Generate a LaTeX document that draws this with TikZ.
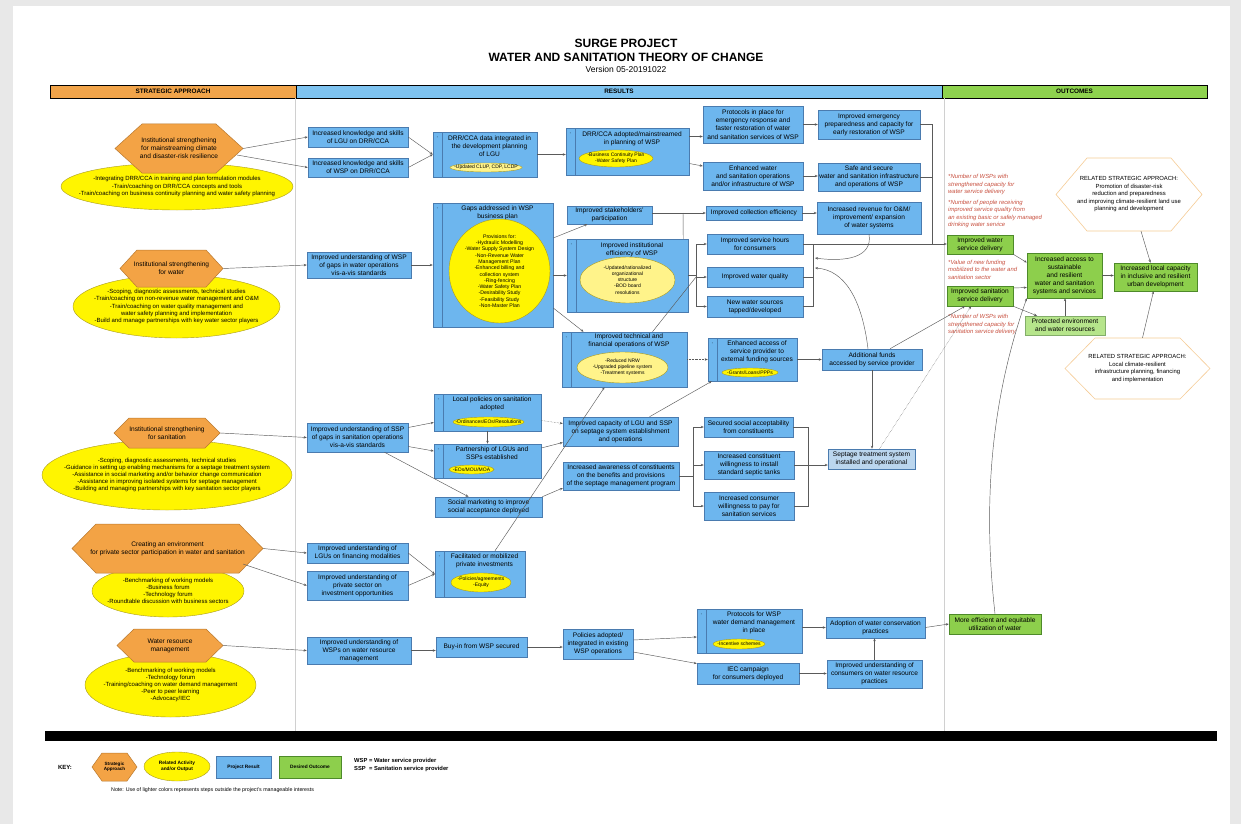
\documentclass[tikz,border=0pt]{standalone}
\usepackage{fontspec}
\setmainfont{Liberation Sans}
\usetikzlibrary{shapes.geometric,arrows.meta,calc}
\definecolor{org}{HTML}{F3A345}
\definecolor{orgd}{HTML}{B8782E}
\definecolor{yel}{HTML}{FFF500}
\definecolor{yell}{HTML}{FFF38A}
\definecolor{eld}{HTML}{A89A20}
\definecolor{bxf}{HTML}{6DB6EE}
\definecolor{bxl}{HTML}{BBD6EE}
\definecolor{bxd}{HTML}{4A7BAF}
\definecolor{gnf}{HTML}{8DCF4C}
\definecolor{gnl}{HTML}{B6E58B}
\definecolor{gnd}{HTML}{4E8A2A}
\definecolor{hdb}{HTML}{7EC3F0}
\definecolor{hdg}{HTML}{8ED24E}
\definecolor{hdo}{HTML}{F1A44A}
\definecolor{rtx}{HTML}{C8503F}
\definecolor{lnc}{HTML}{5A5A5A}
\definecolor{sepc}{HTML}{D0D0D0}
\definecolor{rhd}{HTML}{F6CC96}
\newcommand\fbx{\fontsize{6.6}{8.1}\selectfont}
\newcommand\fel{\fontsize{6.0}{7.2}\selectfont}
\newcommand\fsm{\fontsize{5}{6.2}\selectfont}
\newcommand\frd{\fontsize{5.9}{7.5}\selectfont\itshape}
\tikzset{
 bx/.style={draw=bxd,fill=bxf,line width=0.5pt,inner sep=0pt,align=center,font=\fbx},
 lbx/.style={fill=bxl},
 gbx/.style={draw=gnd,fill=gnf},
 lgbx/.style={draw=gnd!70,fill=gnl},
 txt/.style={inner sep=0pt,align=center,font=\fbx},
 el/.style={ellipse,draw=eld,fill=yel,line width=0.4pt,inner sep=0pt},
 lel/.style={fill=yell},
 eltx/.style={inner sep=0pt,align=center,font=\fel},
 smtx/.style={inner sep=0pt,align=center,font=\fsm},
 fctx/.style={inner sep=0pt,align=center,font=\fontsize{5.2}{6.3}\selectfont},
 ktx/.style={inner sep=0pt,align=center,font=\fontsize{4.8}{5.8}\selectfont\bfseries},
 hxs/.style={draw=orgd,fill=org,line width=0.5pt},
 rhx/.style={draw=rhd,fill=white,line width=0.6pt},
 hxt/.style={inner sep=0pt,align=center,font=\fbx},
 rht/.style={font=\fontsize{5.9}{7.5}\selectfont},
 strip/.style={draw=bxd,line width=0.4pt},
 ar/.style={draw=lnc,line width=0.45pt,-{Stealth[length=3pt,width=2.4pt]}},
 ln/.style={draw=lnc,line width=0.45pt},
 dt/.style={densely dotted},
 redt/.style={inner sep=0pt,align=left,font=\frd,text=rtx,anchor=west},
 hdr/.style={draw=black,line width=0.8pt,inner sep=0pt,font=\fontsize{6.4}{7}\selectfont\bfseries},
}
% box: [style]{name}{x1}{y1}{x2}{y2}{text}
\newcommand\BX[7][]{\node[bx,#1,minimum width={#5-#3},minimum height={#6-#4}] (#2) at ({(#3+#5)/2},{(#4+#6)/2}) {#7};}
% container: [style]{name}{x1}{y1}{x2}{y2}{title}{title y}
\newcommand\CT[8][]{\node[bx,#1,minimum width={#5-#3},minimum height={#6-#4}] (#2) at ({(#3+#5)/2},{(#4+#6)/2}) {};
 \draw[strip] ({#3+9},#4) -- ({#3+9},#6);
 \node[inner sep=0pt,font=\fontsize{4}{4}\selectfont] (#2d) at ({#3+4.5},{#4+6}) {-};
 \node[txt] (#2t) at ({(#3+#5)/2+4.5},#8) {#7};}
% ellipse: [text style]{ellipse style}{name}{x1}{y1}{x2}{y2}{text}
\newcommand\EL[8][eltx]{\node[el,#2,minimum width={#6-#4},minimum height={#7-#5}] (#3) at ({(#4+#6)/2},{(#5+#7)/2}) {};
 \node[#1] (#3t) at ({(#4+#6)/2},{(#5+#7)/2}) {#8};}
% hexagon: [text style]{draw style}{name}{x1}{y1}{x2}{y2}{dx}{text}
\newcommand\HX[9][]{\draw[#2] (#4,{(#5+#7)/2}) -- ({#4+#8},#5) -- ({#6-#8},#5) -- (#6,{(#5+#7)/2}) -- ({#6-#8},#7) -- ({#4+#8},#7) -- cycle;
 \node[hxt,#1,minimum width={#6-#4},minimum height={#7-#5}] (#3) at ({(#4+#6)/2},{(#5+#7)/2}) {#9};}
\begin{document}
\begin{tikzpicture}[x=1pt,y=-1pt]
\useasboundingbox (0,0) rectangle (1241,824);
\fill[black!9] (0,0) rectangle (1241,824);
\fill[white] (13,6) rectangle (1230,824);
% titles
\node[font=\fontsize{12}{13}\selectfont\bfseries] (ttl1) at (626,43) {SURGE PROJECT};
\node[font=\fontsize{12}{13}\selectfont\bfseries] (ttl2) at (626,57) {WATER AND SANITATION THEORY OF CHANGE};
\node[font=\fontsize{8.5}{9}\selectfont] (ttl3) at (626,69.5) {Version 05-20191022};
% headers
\node[hdr,fill=hdo,minimum width=246,minimum height=13] (hsa) at (173,91.5) {STRATEGIC APPROACH};
\node[hdr,fill=hdb,minimum width=646,minimum height=13] (hre) at (619,91.5) {RESULTS};
\node[hdr,fill=hdg,minimum width=265,minimum height=13] (hou) at (1074.5,91.5) {OUTCOMES};
\draw[sepc,line width=0.6pt] (295.5,98) -- (295.5,731);
\draw[sepc,line width=0.6pt] (944,98) -- (944,731);
\fill[black] (45,731) rectangle (1217,741);
% strategic approaches
\EL{}{el1}{61}{163}{293}{210}{-Integrating DRR/CCA in training and plan formulation modules\\-Train/coaching on DRR/CCA concepts and tools\\-Train/coaching on business continuity planning and water safety planning}
\HX{hxs}{hx1}{115}{124}{243}{173}{27}{Institutional strengthening\\for mainstreaming climate\\and disaster-risk resilience}
\EL{}{el2}{73}{275}{280}{338}{-Scoping, diagnostic assessments, technical studies\\-Train/coaching on non-revenue water management and O\&M\\-Train/coaching on water quality management and\\water safety planning and implementation\\-Build and manage partnerships with key water sector players}
\HX{hxs}{hx2}{120}{250}{223}{287}{17}{Institutional strengthening\\for water}
\EL{}{el3}{42}{440}{292}{510}{-Scoping, diagnostic assessments, technical studies\\-Guidance in setting up enabling mechanisms for a septage treatment system\\-Assistance in social marketing and/or behavior change communication\\-Assistance in improving isolated systems for septage management\\-Building and managing partnerships with key sanitation sector players}
\HX{hxs}{hx3}{114}{418}{220}{448}{15}{Institutional strengthening\\for sanitation}
\EL{}{el4}{92}{565}{244}{617}{-Benchmarking of working models\\-Business forum\\-Technology forum\\-Roundtable discussion with business sectors}
\HX{hxs}{hx4}{72}{524}{263}{573}{24}{Creating an environment\\for private sector participation in water and sanitation}
\EL{}{el5}{85}{653}{256}{717}{-Benchmarking of working models\\-Technology forum\\-Training/coaching on water demand management\\-Peer to peer learning\\-Advocacy/IEC}
\HX{hxs}{hx5}{117}{629}{223}{662}{17}{Water resource\\management}
% results
\BX{a1}{308}{127}{408}{147}{Increased knowledge and skills\\of LGU on DRR/CCA}
\BX{a2}{308}{158}{408}{177}{Increased knowledge and skills\\of WSP on DRR/CCA}
\CT{b1}{433}{132}{537}{177}{DRR/CCA data integrated in\\the development planning\\of LGU}{146}
\EL[smtx]{lel}{b1e}{450}{163}{522}{172}{-Updated CLUP, CDP, LCDP}
\CT{c1}{566}{128}{689}{175}{DRR/CCA adopted/mainstreamed\\in planning of WSP}{139}
\EL[smtx]{}{c1e}{579}{150}{653}{167}{-Business Continuity Plan\\-Water Safety Plan}
\BX{d1}{703}{106}{803}{143}{Protocols in place for\\emergency response and\\faster restoration of water\\and sanitation services of WSP}
\BX{d2}{703}{162}{803}{190}{Enhanced water\\and sanitation operations\\and/or infrastructure of WSP}
\BX{e1}{818}{110}{920}{139}{Improved emergency\\preparedness and capacity for\\early restoration of WSP}
\BX{e2}{818}{163}{920}{191}{Safe and secure\\water and sanitation infrastructure\\and operations of WSP}
\BX{aw}{307}{252}{411}{278}{Improved understanding of WSP\\of gaps in water operations\\vis-a-vis standards}
\CT{fb}{433}{203}{553}{327}{Gaps addressed in WSP\\business plan}{213}
\EL[fctx]{}{fe}{449}{219}{550}{323}{Provisions for:\\-Hydraulic Modelling\\-Water Supply System Design\\-Non-Revenue Water\\Management Plan\\-Enhanced billing and\\collection system\\-Ring-fencing\\-Water Safety Plan\\-Desirability Study\\-Feasibility Study\\-Non-Master Plan}
\BX{g1}{567}{206}{652}{224}{Improved stakeholders'\\participation}
\CT{g2}{567}{239}{688}{312}{Improved institutional\\efficiency of WSP}{250}
\EL[smtx]{lel}{g2e}{580}{257}{675}{303}{-Updated/rationalized\\organizational\\structure\\-BOD board\\resolutions}
\BX{h1}{706}{206}{802}{220}{Improved collection efficiency}
\BX{h2}{707}{234}{803}{254}{Improved service hours\\for consumers}
\BX{h3}{707}{267}{803}{287}{Improved water quality}
\BX{h4}{707}{296}{803}{317}{New water sources\\tapped/developed}
\BX{i1}{817}{202}{921}{234}{Increased revenue for O\&M/\\improvement/ expansion\\of water systems}
\CT{jb}{562}{332}{687}{387}{Improved technical and\\financial operations of WSP}{341}
\EL[smtx]{lel}{jbe}{577}{352}{668}{383}{-Reduced NRW\\-Upgraded pipeline system\\-Treatment systems}
\CT{kb}{708}{338}{797}{381}{Enhanced access of\\service provider to\\external funding sources}{352}
\EL[smtx]{}{kbe}{722}{368}{778}{377}{-Grants/Loans/PPPs}
\BX{lb}{822}{349}{922}{370}{Additional funds\\accessed by service provider}
\BX{a3}{307}{423}{408}{452}{Improved understanding of SSP\\of gaps in sanitation operations\\vis-a-vis standards}
\CT{m1}{434}{394}{541}{431}{Local policies on sanitation\\adopted}{404}
\EL[smtx]{}{m1e}{453}{417}{524}{427}{-Ordinances/EOs/Resolutions}
\CT{m2}{434}{444}{541}{478}{Partnership of LGUs and\\SSPs established}{453}
\EL[smtx]{}{m2e}{449}{465}{494}{474}{-EOs/MOU/MOA}
\BX{m3}{435}{497}{542}{517}{Social marketing to improve\\social acceptance deployed}
\BX{n1}{563}{417}{678}{446}{Improved capacity of LGU and SSP\\on septage system establishment\\and operations}
\BX{n2}{563}{462}{679}{490}{Increased awareness of constituents\\on the benefits and provisions\\of the septage management program}
\BX{o1}{704}{417}{793}{437}{Secured social acceptability\\from constituents}
\BX{o2}{704}{451}{794}{479}{Increased constituent\\willingness to install\\standard septic tanks}
\BX{o3}{704}{492}{794}{520}{Increased consumer\\willingness to pay for\\sanitation services}
\BX[lbx]{pb}{828}{449}{915}{469}{Septage treatment system\\installed and operational}
\BX{q1}{307}{543}{408}{563}{Improved understanding of\\LGUs on financing modalities}
\BX{q2}{307}{571}{408}{600}{Improved understanding of\\private sector on\\investment opportunities}
\CT{rb}{435}{551}{525}{597}{Facilitated or mobilized\\private investments}{561}
\EL[smtx]{}{rbe}{451}{573}{511}{592}{-Policies/agreements\\-Equity}
\BX{s1}{307}{637}{411}{664}{Improved understanding of\\WSPs on water resource\\management}
\BX{s2}{436}{637}{527}{657}{Buy-in from WSP secured}
\BX{s3}{563}{629}{633}{659}{Policies adopted/\\integrated in existing\\WSP operations}
\CT{t1}{697}{609}{802}{653}{Protocols for WSP\\water demand management\\in place}{623}
\EL[smtx]{}{t1e}{713}{639}{765}{649}{-Incentive schemes}
\BX{t2}{697}{663}{799}{684}{IEC campaign\\for consumers deployed}
\BX{u1}{826}{617}{925}{638}{Adoption of water conservation\\practices}
\BX{u2}{827}{660}{922}{688}{Improved understanding of\\consumers on water resource\\practices}
% outcomes
\BX[gbx]{v1}{947}{235}{1013}{254}{Improved water\\service delivery}
\BX[gbx]{v2}{947}{286}{1013}{306}{Improved sanitation\\service delivery}
\BX[lgbx]{v3}{1025}{316}{1105}{335}{Protected environment\\and water resources}
\BX[gbx]{wb}{1027}{253}{1102}{298}{Increased access to\\sustainable\\and resilient\\water and sanitation\\systems and services}
\BX[gbx]{xb}{1114}{263}{1197}{291}{Increased local capacity\\in inclusive and resilient\\urban development}
\BX[gbx]{v4}{949}{614}{1041}{634}{More efficient and equitable\\utilization of water}
\HX[rht]{rhx}{rh1}{1056}{158}{1202}{231}{31}{RELATED STRATEGIC APPROACH:\\Promotion of disaster-risk\\reduction and preparedness\\and improving climate-resilient land use\\planning and development}
\HX[rht]{rhx}{rh2}{1065}{338}{1210}{399}{30}{RELATED STRATEGIC APPROACH:\\Local climate-resilient\\infrastructure planning, financing\\and implementation}
\node[redt] (an1) at (948,184.5) {*Number of WSPs with\\strengthened capacity for\\water service delivery};
\node[redt] (an2) at (948,214) {*Number of people receiving\\improved service quality from\\an existing basic or safely managed\\drinking water service};
\node[redt] (an3) at (948,269.5) {*Value of new funding\\mobilized to the water and\\sanitation sector};
\node[redt] (an4) at (948,324.5) {*Number of WSPs with\\strengthened capacity for\\sanitation service delivery};
% connectors: DRR/CCA
\coordinate (hx1b) at (237,155);
\draw[ar] (hx1.east) -- (a1.west);
\draw[ar] (hx1b) -- (a2.west);
\draw[ar] (a1.east) -- (b1.west);
\draw[ar] (a2.east) -- (b1.west);
\draw[ar] (b1.east) -- (b1.east -| c1.west);
\draw[ar] ([yshift=15pt]c1.east) -- ([yshift=-12pt]d1.west);
\draw[ar] ([yshift=-12pt]c1.east) -- ([yshift=10pt]d2.west);
\draw[ar] (d1.east) -- (d1.east -| e1.west);
\draw[ar] (d2.east) -- (d2.east -| e2.west);
\coordinate (jE) at (932,244.5);
\draw[ln] (e1.east) -| (jE);
\draw[ln] (e2.east) -| (jE);
% water
\draw[ar] (hx2.east) -- (aw.west);
\draw[ar] (aw.east) -- (aw.east -| fb.west);
\draw[ar] ([yshift=27pt]fb.east) -- ([xshift=-22pt]g1.south);
\draw[ar] (fb.east |- g2.west) -- (g2.west);
\draw[ar] ([yshift=-43pt]fb.east) -- ([xshift=-41pt]jb.north);
\coordinate (jG) at (683,213);
\draw[ar] (g1.east |- h1.west) -- (h1.west);
\draw[ln] ([xshift=-5pt]g2.north east) -- (jG);
\draw[ar] (h1.east) -- (h1.east -| i1.west);
\coordinate (jL) at (696,277);
\draw[ln] (g2.east) -- (g2.east -| jL);
\draw[ln] ([xshift=28pt]jb.north) -- (jL);
\draw[ln] (jL |- h2.west) -- (jL |- h4.west);
\draw[ar] (jL |- h2.west) -- (h2.west);
\draw[ar] (jL |- h3.west) -- (h3.west);
\draw[ar] (jL |- h4.west) -- (h4.west);
\coordinate (jH) at (813,244);
\draw[ln] (h3.east) -| (jH);
\draw[ln] (h4.east) -| (jH);
\draw[ar] (h2.east) -- (h2.east -| v1.west);
\coordinate (bk1) at (815,258);
\coordinate (bk2) at (815,268);
\draw[ar] (i1.south) .. controls (873,258) and (845,262) .. (bk1);
\draw[ar] ([xshift=-4pt]lb.north) .. controls (862,300) and (845,270) .. (bk2);
\draw[ar,dt] (jb.east) -- (jb.east -| kb.west);
\draw[ar] ([xshift=29pt]n1.north) -- ([xshift=4pt]kb.south west);
\draw[ar] (kb.east) -- (kb.east -| lb.west);
\draw[ar] (lb.south) -- (lb.south |- pb.north);
\draw[ar] ([xshift=18pt]lb.north) -- ([xshift=-15pt]v2.south);
\draw[ar,dt] ([xshift=8pt]pb.north) -- ([xshift=-9pt]v2.south);
% sanitation
\draw[ar] (hx3.east) -- (a3.west);
\draw[ar] ([yshift=10pt]a3.east) -- ([yshift=-10pt]m1.west);
\draw[ar] ([yshift=-9pt]a3.east) -- ([yshift=10pt]m2.west);
\draw[ar] ([xshift=27pt]a3.south) -- ([xshift=-20pt]m3.north);
\draw[ar] (m1.south) -- (m2.north);
\draw[ar,dt] ([yshift=-8pt]m1.east) -- ([yshift=8pt]n1.west);
\draw[ar] ([yshift=13pt]m2.east) -- ([yshift=-11pt]n1.west);
\draw[ar] (m3.north east) -- ([yshift=-12pt]n2.west);
\draw[ar] ([xshift=15pt]rb.north) -- ([xshift=-20pt]jb.south);
\coordinate (jO) at (693,476);
\draw[ln] (n2.east) -- (n2.east -| jO);
\draw[ln] (jO |- o1.west) -- (jO |- o3.west);
\draw[ar] (jO |- o1.west) -- (o1.west);
\draw[ar] (jO |- o2.west) -- (o2.west);
\draw[ar] (jO |- o3.west) -- (o3.west);
\coordinate (jP) at (808,460);
\draw[ln] (o1.east) -| (jP |- o3.east) -- (o3.east);
\draw[ar] (o2.east) -- (o2.east -| pb.west);
% private sector
\coordinate (hx4b) at (243,564);
\draw[ar] (hx4.east) -- (q1.west);
\draw[ar] (hx4b) -- (q2.west);
\draw[ar] (q1.east) -- (rb.west);
\draw[ar] (q2.east) -- (rb.west);
% water resource
\draw[ar] (hx5.east) -- (s1.west);
\draw[ar] (s1.east) -- (s1.east -| s2.west);
\draw[ar] (s2.east) -- (s2.east -| s3.west);
\draw[ar] ([yshift=4pt]s3.east) -- ([yshift=-6pt]t1.west);
\draw[ar] ([yshift=-8pt]s3.east) -- ([yshift=10pt]t2.west);
\draw[ar] (t1.east |- u1.west) -- (u1.west);
\draw[ar] (t2.east) -- (t2.east -| u2.west);
\draw[ar] (u2.north) -- (u2.north |- u1.south);
\draw[ar] (u1.east) -- (v4.west);
\draw[ar] (v4.north) .. controls (980,480) and (998,380) .. (wb.south west);
% outcomes
\draw[ar] (v1.south east) -- ([yshift=13pt]wb.west);
\draw[ar] ([yshift=8pt]v2.east) -- ([yshift=-12pt]wb.west);
\draw[ar] (v2.south east) -- ([xshift=-28pt]v3.north);
\draw[ar] (v3.north) -- (v3.north |- wb.south);
\draw[ar] (wb.east) -- (wb.east -| xb.west);
\draw[ar] ([xshift=12pt]rh1.south) -- ([xshift=-5pt]xb.north);
\draw[ar] ([xshift=5pt]rh2.north) -- ([xshift=-2pt]xb.south);
% key
\node[font=\fontsize{6}{7}\selectfont\bfseries] (key) at (65,767) {KEY:};
\HX[font=\fontsize{4.6}{5.6}\selectfont\bfseries]{hxs}{k1}{92}{753}{137}{781}{10}{Strategic\\Approach}
\EL[ktx]{}{k2}{144}{752}{210}{781}{Related Activity\\and/or Output}
\BX[font=\fontsize{4.8}{6}\selectfont\bfseries]{k3}{216}{756}{271}{778}{Project Result}
\BX[gbx,font=\fontsize{4.8}{6}\selectfont\bfseries]{k4}{279}{756}{341}{778}{Desired Outcome}
\node[anchor=west,font=\fontsize{5.8}{8}\selectfont\bfseries,align=left,inner sep=0pt] (kw) at (354,765) {WSP = Water service provider\\SSP \ = Sanitation service provider};
\node[anchor=west,font=\fontsize{5.3}{6}\selectfont,inner sep=0pt] (kn) at (111,790) {Note: Use of lighter colors represents steps outside the project's manageable interests};
\end{tikzpicture}
\end{document}
